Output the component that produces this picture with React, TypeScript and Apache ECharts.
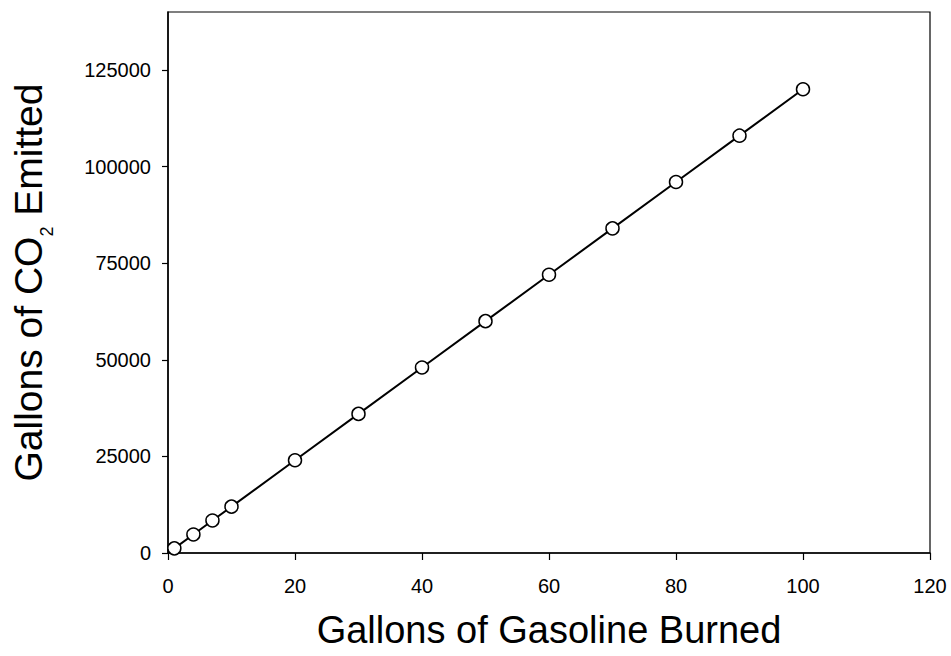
import React, { useEffect, useRef } from "react";
import * as echarts from "echarts";

const gallonsBurned = [1, 4, 7, 10, 20, 30, 40, 50, 60, 70, 80, 90, 100];
const co2Emitted = [1200, 4800, 8400, 12000, 24000, 36000, 48000, 60000, 72000, 84000, 96000, 108000, 120000];
const yTicks = [0, 25000, 50000, 75000, 100000, 125000];
const xTicks = [0, 20, 40, 60, 80, 100, 120];

const FONT = "'Liberation Sans', Arial, Helvetica, sans-serif";

export default function App() {
  const ref = useRef<HTMLDivElement>(null);
  useEffect(() => {
    if (!ref.current) return;
    const chart = echarts.init(ref.current, undefined, { renderer: "svg" });
    chart.setOption({
      animation: false,
      backgroundColor: "#ffffff",
      grid: {
        left: 168,
        right: 21,
        top: 12,
        bottom: 103,
        show: true,
        borderColor: "#000",
        borderWidth: 1.2,
        backgroundColor: "transparent",
      },
      xAxis: {
        type: "value",
        min: 0,
        max: 120,
        interval: 20,
        name: "Gallons of Gasoline Burned",
        nameLocation: "middle",
        nameGap: 58,
        nameTextStyle: { fontFamily: FONT, fontSize: 38, color: "#000" },
        axisLine: { show: true, onZero: false, lineStyle: { color: "#000", width: 1.5 } },
        axisTick: { show: true, length: 7, lineStyle: { color: "#000", width: 1.2 }, customValues: xTicks },
        axisLabel: {
          fontFamily: FONT,
          fontSize: 20,
          color: "#000",
          margin: 23,
          customValues: xTicks,
          formatter: (v: number) => String(v),
        },
        splitLine: { show: false },
      },
      yAxis: {
        type: "value",
        min: 0,
        max: 140000,
        interval: 25000,
        name: "{a|Gallons of CO}{sub|2}{a| Emitted}",
        nameLocation: "middle",
        nameRotate: 90,
        nameGap: 112,
        nameTextStyle: {
          fontFamily: FONT,
          fontSize: 39,
          color: "#000",
          rich: {
            a: { fontFamily: FONT, fontSize: 39, color: "#000", lineHeight: 56 },
            sub: { fontFamily: FONT, fontSize: 18, color: "#000", lineHeight: 18, verticalAlign: "bottom" },
          },
        },
        axisLine: { show: true, onZero: false, lineStyle: { color: "#000", width: 1.5 } },
        axisTick: { show: true, length: 6, lineStyle: { color: "#000", width: 1.2 }, customValues: yTicks },
        axisLabel: {
          fontFamily: FONT,
          fontSize: 20,
          color: "#000",
          margin: 17,
          customValues: yTicks,
          formatter: (v: number) => String(v),
        },
        splitLine: { show: false },
      },
      series: [
        {
          type: "line",
          data: gallonsBurned.map((x, i) => [x, co2Emitted[i]]),
          symbol: "circle",
          symbolSize: 13,
          showAllSymbol: true,
          lineStyle: { color: "#000", width: 2 },
          itemStyle: { color: "#fff", borderColor: "#000", borderWidth: 1.5 },
          z: 3,
        },
      ],
    });
    return () => chart.dispose();
  }, []);
  return <div ref={ref} style={{ width: 951, height: 656, position: "absolute", left: 0, top: 0 }} />;
}
